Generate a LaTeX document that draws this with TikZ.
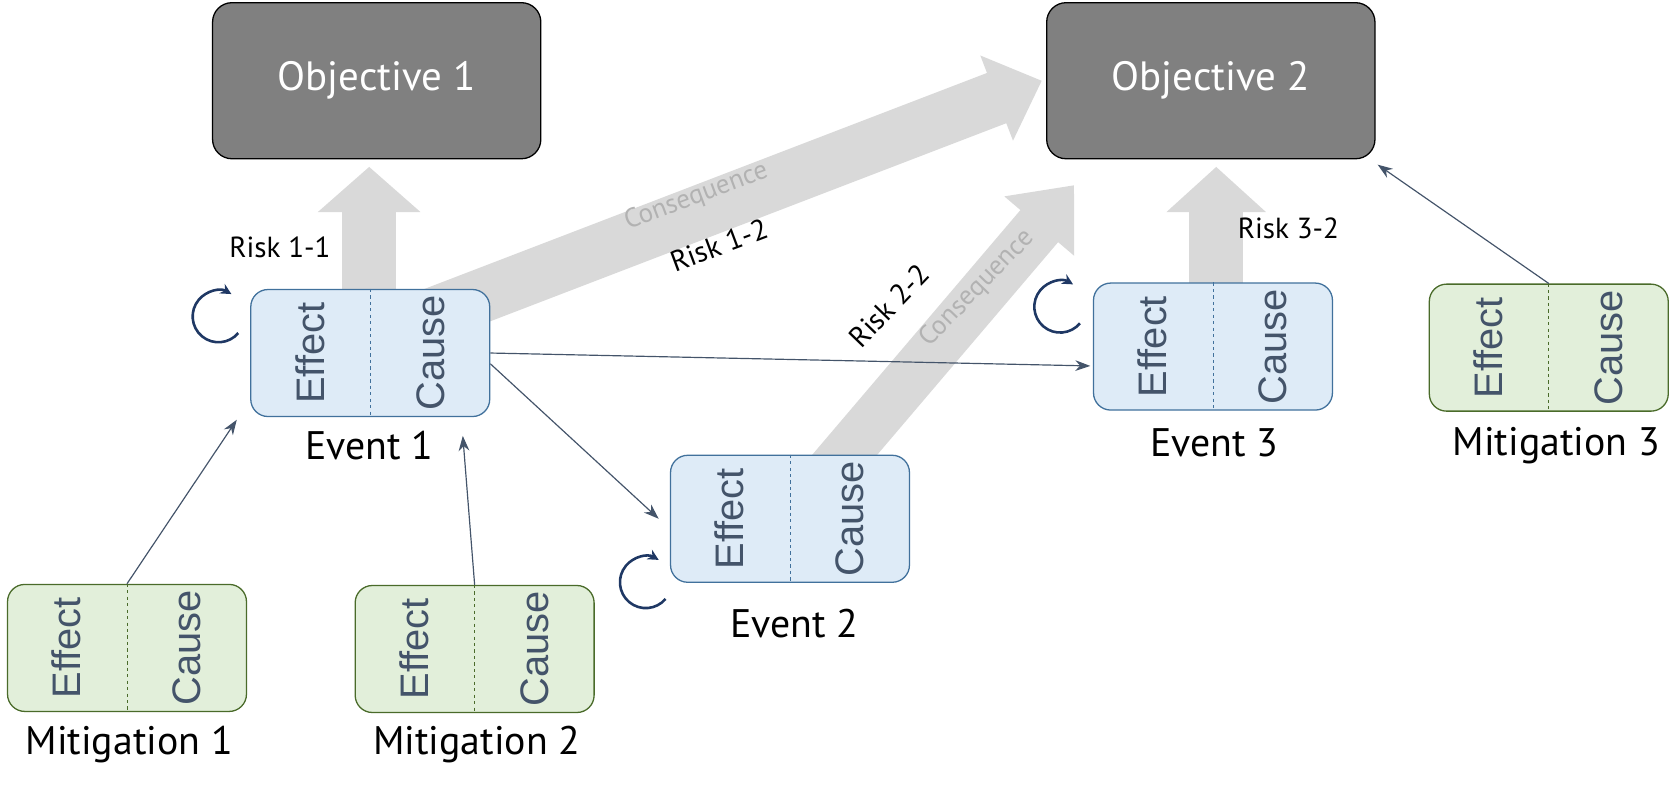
\documentclass[tikz,border=0pt]{standalone}
\usepackage{fontspec}
\setmainfont{PT Sans}
\newfontfamily\boxfont{Liberation Sans}
\usetikzlibrary{arrows.meta,calc}
\definecolor{evfill}{HTML}{DEEBF7}
\definecolor{evline}{HTML}{41719C}
\definecolor{mifill}{HTML}{E2EFDA}
\definecolor{miline}{HTML}{4A6B2A}
\definecolor{txt}{HTML}{44546A}
\definecolor{bigc}{HTML}{D9D9D9}
\definecolor{objc}{HTML}{808080}
\definecolor{circ}{HTML}{1F3864}
\tikzset{
  objbox/.style={draw=black,line width=1.2pt,fill=objc,rounded corners=18pt,minimum width=305pt,minimum height=145pt,text=white,font=\fontsize{38}{44}\selectfont},
  evbx/.style={draw=evline,line width=1.2pt,fill=evfill,rounded corners=16pt,minimum width=222pt,minimum height=118pt},
  mibx/.style={evbx,draw=miline,fill=mifill},
  divline/.style={dashed,line width=0.6pt},
  boxlab/.style={rotate=90,text=txt,font=\boxfont\fontsize{37}{40}\selectfont},
  evname/.style={font=\fontsize{37}{42}\selectfont},
  risklab/.style={font=\fontsize{27}{32}\selectfont},
  conslab/.style={text=black!30,font=\fontsize{25}{30}\selectfont},
  bigarrow/.style={draw=bigc,line width=#1},
  conn/.style={draw=txt,line width=1.1pt,-{Stealth[length=14pt,width=10pt]}},
  cyc/.style={draw=circ,line width=2.4pt,-{Stealth[length=10pt,width=10pt]}}
}
\newcommand{\evbox}[5]{% name, style, x, y, line colour
  \node[#2] (#1) at (#3,#4) {};
  \draw[divline,draw=#5] (#1.north) -- (#1.south);
  \node[boxlab] (#1eff) at ($(#1.center)+(-56pt,0)$) {Effect};
  \node[boxlab] (#1cau) at ($(#1.center)+(56pt,0)$) {Cause};
}
\begin{document}
\begin{tikzpicture}[x=1pt,y=-1pt]
\useasboundingbox (0,0) rectangle (1560,736);
% big arrows
\coordinate (a1s) at (343,300); \coordinate (a1t) at (343,155);
\coordinate (a2s) at (395,295); \coordinate (a2t) at (968,75);
\coordinate (a3s) at (770,440); \coordinate (a3t) at (998,172);
\coordinate (a4s) at (1130,290); \coordinate (a4t) at (1130,155);
\draw[bigarrow=50pt,-{Triangle[length=45pt,width=82pt,fill=bigc]}] (a2s) -- (a2t);
\draw[bigarrow=46pt,-{Triangle[length=50pt,width=82pt,fill=bigc]}] (a3s) -- (a3t);
\draw[bigarrow=50pt,-{Triangle[length=42pt,width=93pt,fill=bigc]}] (a1s) -- (a1t);
\draw[bigarrow=50pt,-{Triangle[length=42pt,width=90pt,fill=bigc]}] (a4s) -- (a4t);
\node[conslab,rotate=20.5] (c1) at (647,183) {Consequence};
\node[risklab,rotate=20.5] (r12) at (668,228) {Risk 1-2};
\node[conslab,rotate=46] (c2) at (908,268) {Consequence};
\node[risklab,rotate=46] (r22) at (826,284) {Risk 2-2};
\node[risklab] (r11) at (260,230) {Risk 1-1};
\node[risklab] (r32) at (1197,212) {Risk 3-2};
% objectives
\node[objbox] (o1) at (350,75) {Objective 1};
\node[objbox] (o2) at (1125,75) {Objective 2};
% boxes
\evbox{e1}{evbx}{344}{328}{evline}
\evbox{e2}{evbx}{734}{482}{evline}
\evbox{e3}{evbx}{1127}{322}{evline}
\evbox{m1}{mibx}{118}{602}{miline}
\evbox{m2}{mibx}{441}{603}{miline}
\evbox{m3}{mibx}{1439}{323}{miline}
\node[evname] (e1n) at (343,414) {Event 1};
\node[evname] (e2n) at (738,579) {Event 2};
\node[evname] (e3n) at (1128,411) {Event 3};
\node[evname] (m1n) at (120,692) {Mitigation 1};
\node[evname] (m2n) at (443,692) {Mitigation 2};
\node[evname] (m3n) at (1446,414) {Mitigation 3};
% connectors
\coordinate (t1) at (1013,340);
\coordinate (t2) at (612,482);
\coordinate (t3) at (220,390);
\coordinate (t4) at (430,405);
\coordinate (t5) at (1280,153);
\draw[conn] (e1.east) -- (t1);
\draw[conn] ($(e1.east)+(0,10)$) -- (t2);
\draw[conn] (m1.north) -- (t3);
\draw[conn] (m2.north) -- (t4);
\draw[conn] (m3.north) -- (t5);
% loops
\coordinate (l1) at (203,294);
\coordinate (l2) at (600,541);
\coordinate (l3) at (985,285);
\foreach \c in {l1,l2,l3}
  \draw[cyc] ($(\c)+(40:24)$) arc[start angle=40,end angle=300,radius=24];
\end{tikzpicture}
\end{document}
